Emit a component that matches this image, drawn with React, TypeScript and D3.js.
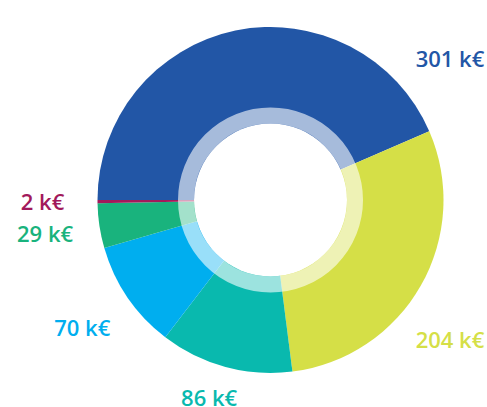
import React from "react";
import * as d3 from "d3";

const categories = ["A", "B", "C", "D", "E", "F"];
const values = [301, 204, 86, 70, 29, 2];
const labels = ["301 k€", "204 k€", "86 k€", "70 k€", "29 k€", "2 k€"];
const colors = ["#2256A6", "#D5DF47", "#09B9AE", "#00AEEF", "#19B37D", "#A2195B"];

const W = 487;
const H = 407;
const cx = 270.5;
const cy = 200;
const outerR = 173;
const ringOuter = 92.5;
const ringInner = 76.5;
const labelR = 228;
const minY = 60;
const maxY = 398;
const halfW = 37;

export default function App() {
  const pie = d3
    .pie<number>()
    .sort(null)
    .startAngle(-Math.PI / 2)
    .endAngle((3 * Math.PI) / 2)(values);
  const arc = d3.arc<d3.PieArcDatum<number>>().innerRadius(0).outerRadius(outerR);

  const labelPos = (d: d3.PieArcDatum<number>) => {
    const a = (d.startAngle + d.endAngle) / 2;
    let x = Math.sin(a) * labelR;
    let y = -Math.cos(a) * labelR;
    if (cy + y < minY) {
      // rotate clockwise keeping radius until inside
      y = minY - cy;
      x = Math.sqrt(labelR * labelR - y * y);
    } else if (cy + y > maxY) {
      const dy = maxY - cy;
      const r = (dy / y) * labelR * 0.92;
      x = Math.sin(a) * r * 1.25;
      y = dy;
    }
    if (cx + x + halfW > W) {
      x = W - halfW - cx;
      y = Math.sign(y) * Math.sqrt(labelR * labelR - x * x);
    }
    return [cx + x, cy + y];
  };

  return (
    <div style={{ position: "absolute", left: 0, top: 0 }}>
      <svg width={W} height={H} style={{ display: "block" }}>
        <rect width={W} height={H} fill="#ffffff" />
        <g transform={`translate(${cx},${cy})`}>
          {pie.map((d, i) => (
            <path key={categories[i]} d={arc(d) || ""} fill={colors[i]} />
          ))}
          <circle r={(ringOuter + ringInner) / 2} fill="none" stroke="#ffffff" strokeOpacity={0.6} strokeWidth={ringOuter - ringInner} />
          <circle r={ringInner} fill="#ffffff" />
        </g>
        {pie.map((d, i) => {
          const [x, y] = labelPos(d);
          return (
            <text
              key={"l" + categories[i]}
              x={x}
              y={y}
              dy="0.35em"
              textAnchor="middle"
              fill={colors[i]}
              style={{ fontFamily: "'Open Sans', sans-serif", fontSize: 22, fontWeight: 600 }}
            >
              {labels[i]}
            </text>
          );
        })}
      </svg>
    </div>
  );
}
